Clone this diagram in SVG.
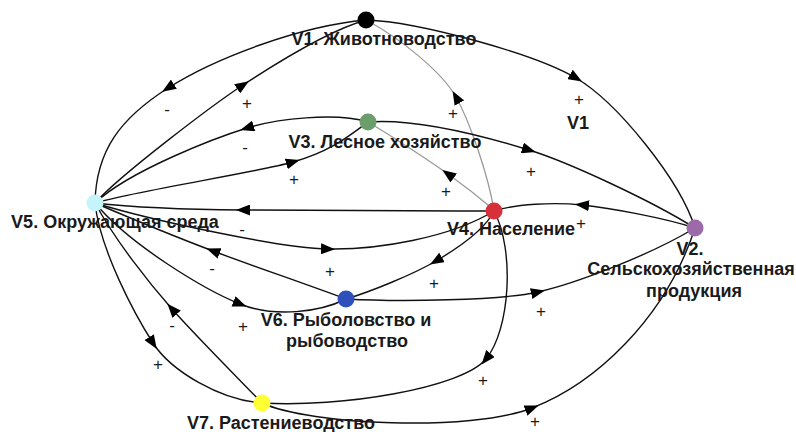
<svg xmlns="http://www.w3.org/2000/svg" width="796" height="432" viewBox="0 0 796 432">
<style>
.e{fill:none;stroke:#111;stroke-width:1.4;marker-mid:url(#arr)}
.g{fill:none;stroke:#9a9a9a;stroke-width:1.3;marker-mid:url(#arr)}
.lbl{font-family:"Liberation Sans",Arial,sans-serif;font-weight:bold;font-size:18px;fill:#1a1a1a;text-anchor:middle}
.s{font-family:"Liberation Sans",Arial,sans-serif;font-size:17px;fill:#1a1a1a;text-anchor:middle}
</style>
<defs>
<marker id="arr" viewBox="0 0 14 11" refX="7" refY="5.5" markerWidth="14" markerHeight="11" markerUnits="userSpaceOnUse" orient="auto"><path d="M0,0 L14,5.5 L0,11 z" fill="#000"/></marker>
</defs>
<rect width="796" height="432" fill="#fff"/>
<g id="connectors">
<path class="e" d="M366,20 C300,26 215,58 168,88 S96,150 95,203"/>
<path class="e" d="M95,203 C120,175 214,104 243,85 S330,30 366,20"/>
<path class="e" d="M368,122 C335,112 276,119 247,128 S130,170 95,203"/>
<path class="e" d="M95,203 C140,190 254,173 293,162 S350,135 368,122"/>
<path class="e" d="M494,211 C400,211 300,210.5 243,210 S130,207 95,203"/>
<path class="e" d="M95,203 C150,220 280,248 328,249 S450,238 494,211"/>
<path class="e" d="M346,299 C300,282 250,265 213,251 S130,218 95,203"/>
<path class="e" d="M95,203 C130,245 205,290 240,304 S320,312 346,299"/>
<path class="e" d="M262,403 C230,370 195,335 172,309 S115,240 95,203"/>
<path class="e" d="M95,203 C100,250 135,315 153,343 S220,400 262,403"/>
<path class="e" d="M366,20 C420,22 535,54 576,78 S680,180 695,228"/>
<path class="g" d="M494,210 C488,175 470,122 456,97 S400,38 366,20"/>
<path class="g" d="M494,210 C480,198 462,184 448,174 S395,138 368,122"/>
<path class="e" d="M368,122 C420,118 490,138 529,150 S650,200 695,228"/>
<path class="e" d="M695,228 C665,218 610,208 582,205 S515,204 494,211"/>
<path class="e" d="M494,211 C485,230 458,248 436,261 S370,292 346,299"/>
<path class="e" d="M346,299 C400,302 500,300.5 538,292 S650,255 695,228"/>
<path class="e" d="M494,211 C515,250 510,330 486,359 S340,408 262,403"/>
<path class="e" d="M262,403 C310,425 470,432 532,408 S665,320 695,228"/>
</g>
<g id="signs">
<text class="s" x="167" y="115">-</text>
<text class="s" x="247" y="109">+</text>
<text class="s" x="245" y="153">-</text>
<text class="s" x="294" y="185">+</text>
<text class="s" x="242" y="235">-</text>
<text class="s" x="330" y="277">+</text>
<text class="s" x="212" y="274">-</text>
<text class="s" x="243" y="332">+</text>
<text class="s" x="172" y="331">-</text>
<text class="s" x="158" y="370">+</text>
<text class="s" x="579" y="105">+</text>
<text class="lbl" x="578" y="129">V1</text>
<text class="s" x="453" y="119">+</text>
<text class="s" x="446" y="197">+</text>
<text class="s" x="531" y="177">+</text>
<text class="s" x="581" y="229">+</text>
<text class="s" x="434" y="289">+</text>
<text class="s" x="541" y="317">+</text>
<text class="s" x="483" y="386">+</text>
<text class="s" x="535" y="427">+</text>
</g>
<g id="V1"><circle cx="366" cy="20" r="8.5" fill="#000"/><text class="lbl" x="384" y="45">V1. Животноводство</text></g>
<g id="V3"><circle cx="368" cy="122" r="8.5" fill="#6b9e6b"/><text class="lbl" x="385" y="148">V3. Лесное хозяйство</text></g>
<g id="V5"><circle cx="95" cy="203" r="8.5" fill="#c6f4fb"/><text class="lbl" x="115" y="228">V5. Окружающая среда</text></g>
<g id="V4"><circle cx="494" cy="211" r="8.5" fill="#d8303a"/><text class="lbl" x="511" y="235">V4. Население</text></g>
<g id="V2"><circle cx="695" cy="228" r="8.5" fill="#9d6aa9"/><text class="lbl" x="690" y="255">V2.</text><text class="lbl" x="691" y="275">Сельскохозяйственная</text><text class="lbl" x="694" y="297">продукция</text></g>
<g id="V6"><circle cx="346" cy="299" r="8.5" fill="#2f4fba"/><text class="lbl" x="346" y="326">V6. Рыболовство и</text><text class="lbl" x="347" y="347">рыбоводство</text></g>
<g id="V7"><circle cx="262" cy="403" r="8.5" fill="#ffff33"/><text class="lbl" x="281" y="429">V7. Растениеводство</text></g>
</svg>
